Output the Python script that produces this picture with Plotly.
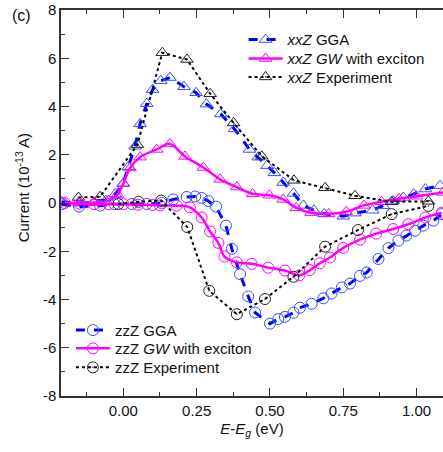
import plotly.graph_objects as go

# ---------------- data ----------------
xx_gga_x = [-0.21, -0.15, -0.10, -0.06, -0.028, 0.0, 0.017, 0.04, 0.057, 0.08, 0.10, 0.128, 0.159,
            0.207, 0.248, 0.283, 0.332, 0.379, 0.43, 0.46, 0.49, 0.515, 0.545, 0.58, 0.614, 0.65,
            0.685, 0.75, 0.79, 0.85, 0.886, 0.92, 0.955, 0.99, 1.03, 1.08]
xx_gga_y = [0.05, 0.0, 0.02, 0.1, 0.37, 0.82, 1.5, 2.35, 3.28, 4.12, 4.7, 5.07, 5.2,
            4.82, 4.57, 4.1, 3.69, 3.07, 2.22, 1.9, 1.55, 1.25, 0.85, 0.4, -0.1, -0.3,
            -0.45, -0.55, -0.42, -0.3, -0.11, 0.08, 0.23, 0.37, 0.58, 0.72]

xx_gw_x = [-0.2, -0.15, -0.1, -0.05, -0.02, 0.0, 0.023, 0.057, 0.114, 0.159, 0.21, 0.273, 0.33,
           0.387, 0.441, 0.498, 0.545, 0.59, 0.64, 0.70, 0.76, 0.82, 0.88, 0.94, 1.0, 1.09]
xx_gw_y = [0.0, 0.0, 0.02, 0.1, 0.35, 0.8, 1.45, 1.9, 2.22, 2.45, 1.93, 1.47, 0.98,
           0.66, 0.38, 0.32, 0.15, -0.2, -0.4, -0.45, -0.36, -0.1, 0.05, 0.18, 0.28, 0.44]

xx_exp_x = [-0.153, -0.079, 0.048, 0.133, 0.217, 0.296, 0.376, 0.472, 0.582, 0.688, 0.790, 0.915, 1.04]
xx_exp_y = [0.23, 0.26, 2.42, 6.23, 5.95, 4.53, 3.32, 1.94, 0.94, 0.63, 0.30, 0.05, 0.07]

zz_gga_x = [-0.21, -0.151, -0.079, -0.03, 0.029, 0.08, 0.13, 0.17, 0.216, 0.245, 0.267, 0.29,
            0.316, 0.35, 0.37, 0.398, 0.426, 0.449, 0.50, 0.528, 0.551, 0.58, 0.602, 0.642,
            0.682, 0.71, 0.745, 0.773, 0.807, 0.83, 0.87, 0.904, 0.938, 0.965, 0.995, 1.023,
            1.057, 1.086]
zz_gga_y = [-0.05, -0.15, -0.11, -0.05, -0.04, -0.04, 0.0, 0.15, 0.25, 0.27, 0.21, 0.08,
            -0.15, -0.94, -1.9, -2.95, -3.87, -4.54, -5.0, -4.81, -4.72, -4.55, -4.34, -4.18,
            -3.95, -3.75, -3.5, -3.34, -3.02, -2.88, -2.32, -1.87, -1.56, -1.35, -1.15, -0.94,
            -0.73, -0.46]

zz_gw_x = [-0.2, -0.15, -0.1, -0.05, 0.0, 0.05, 0.1, 0.125, 0.182, 0.227, 0.267, 0.296, 0.324,
           0.345, 0.387, 0.438, 0.494, 0.551, 0.60, 0.636, 0.67, 0.705, 0.75, 0.807, 0.862,
           0.92, 0.972, 1.03, 1.086]
zz_gw_y = [0.0, -0.03, -0.05, -0.05, -0.05, -0.07, -0.08, -0.1, -0.11, -0.18, -0.6, -1.18, -1.65,
           -2.22, -2.46, -2.52, -2.68, -2.8, -3.0, -2.78, -2.5, -2.26, -1.86, -1.52, -1.27,
           -1.08, -0.88, -0.6, -0.4]

zz_exp_x = [-0.017, 0.052, 0.129, 0.218, 0.293, 0.387, 0.483, 0.580, 0.688, 0.800, 0.915, 1.04]
zz_exp_y = [-0.04, 0.05, 0.10, -1.0, -3.64, -4.61, -3.98, -3.06, -1.81, -1.12, -0.46, -0.12]

x_tickvals = [0.0, 0.25, 0.5, 0.75, 1.0]
x_ticktext = ["0.00", "0.25", "0.50", "0.75", "1.00"]
y_tickvals = [-8, -6, -4, -2, 0, 2, 4, 6, 8]
y_ticktext = ["-8", "-6", "-4", "-2", "0", "2", "4", "6", "8"]

# ---------------- style ----------------
BLUE = "#0000ff"
BLUE_M = "#3050ff"
MAG = "#ff00ff"
BLK = "#000000"
FONT = "Liberation Sans, Arial, sans-serif"

fig = go.Figure()

def add(x, y, name, color, mcolor, dash, width, symbol, size, legend, shape="linear"):
    fig.add_trace(go.Scatter(
        x=x, y=y, name=name, mode="lines+markers", legend=legend, showlegend=True,
        line=dict(color=color, dash=dash, width=width, shape=shape),
        marker=dict(symbol=symbol, size=size, color=mcolor, line=dict(color=mcolor, width=1)),
    ))

add(xx_gga_x, xx_gga_y, "<i>xxZ</i> GGA", BLUE, BLUE_M, "dash", 3, "triangle-up-open", 11, "legend")
add(xx_gw_x, xx_gw_y, "<i>xxZ GW</i> with exciton", MAG, MAG, "solid", 2.5, "triangle-up-open", 11, "legend2", "spline")
add(xx_exp_x, xx_exp_y, "<i>xxZ</i> Experiment", BLK, "#222222", "dot", 2, "triangle-up-open-dot", 11, "legend3")

add(zz_gga_x, zz_gga_y, "zzZ GGA", BLUE, BLUE_M, "dash", 3, "circle-open", 11, "legend4")
add(zz_gw_x, zz_gw_y, "zzZ <i>GW</i> with exciton", MAG, MAG, "solid", 2.5, "circle-open", 11, "legend5", "spline")
add(zz_exp_x, zz_exp_y, "zzZ Experiment", BLK, "#222222", "dot", 2, "circle-open-dot", 11, "legend6")

axis_common = dict(
    showline=True, linecolor="#333333", linewidth=1.5,
    ticks="inside", ticklen=8, tickwidth=1.3, tickcolor="#333333",
    showgrid=False, zeroline=False, ticklabeloverflow="allow",
    tickfont=dict(size=15, color="#111111", family=FONT),
)

W, H = 443, 452
ML, MR, MT, MB = 61, 0, 9.5, 56.3
plot_h = H - MT - MB

def leg(xp, yp):
    return dict(x=xp, y=yp, xanchor="left", yanchor="middle", bgcolor="rgba(0,0,0,0)",
                font=dict(size=15), itemwidth=34, borderwidth=0, visible=True)

top_x = 0.478
bot_x = 0.026
row_top = [39.3, 58.3, 76.7]
row_bot = [330.0, 348.3, 367.3]
to_p = lambda fy: (MT + plot_h - fy) / plot_h

fig.update_layout(
    width=W, height=H, showlegend=True,
    margin=dict(l=ML, r=MR, t=MT, b=MB, autoexpand=False),
    paper_bgcolor="white", plot_bgcolor="white",
    font=dict(family=FONT, size=14, color="#111111"),
    xaxis=dict(
        range=[-0.2125, 1.09], tickvals=x_tickvals, ticktext=x_ticktext, mirror="ticks",
        minor=dict(dtick=0.125, tick0=0, ticks="inside", ticklen=4, tickcolor="#333333", tickwidth=1.2),
        title=dict(text="<i>E</i>-<i>E</i><sub><i>g</i></sub> (eV)", font=dict(size=15), standoff=6),
        **axis_common,
    ),
    yaxis=dict(
        range=[-8, 8], tickvals=y_tickvals, ticktext=y_ticktext, mirror=False,
        minor=dict(dtick=1, tick0=0, ticks="inside", ticklen=4, tickcolor="#333333", tickwidth=1.2),
        **axis_common,
    ),
    legend=leg(top_x, to_p(row_top[0])),
    legend2=leg(top_x, to_p(row_top[1])),
    legend3=leg(top_x, to_p(row_top[2])),
    legend4=leg(bot_x, to_p(row_bot[0])),
    legend5=leg(bot_x, to_p(row_bot[1])),
    legend6=leg(bot_x, to_p(row_bot[2])),
    annotations=[
        dict(text="(c)", x=0, y=1, xref="paper", yref="paper", showarrow=False,
             xshift=-ML + 10, yshift=-(15 - MT), xanchor="left", yanchor="middle",
             font=dict(size=16)),
        dict(text="Current (10<sup>-13</sup> A)", x=0, y=0.538, xref="paper", yref="paper",
             showarrow=False, textangle=-90, xshift=-39, xanchor="center", yanchor="middle",
             font=dict(size=15)),
    ],
)

fig.write_html("out.html", config={"displayModeBar": False},
               post_script="document.body.style.margin='0';document.body.style.overflow='hidden';")
